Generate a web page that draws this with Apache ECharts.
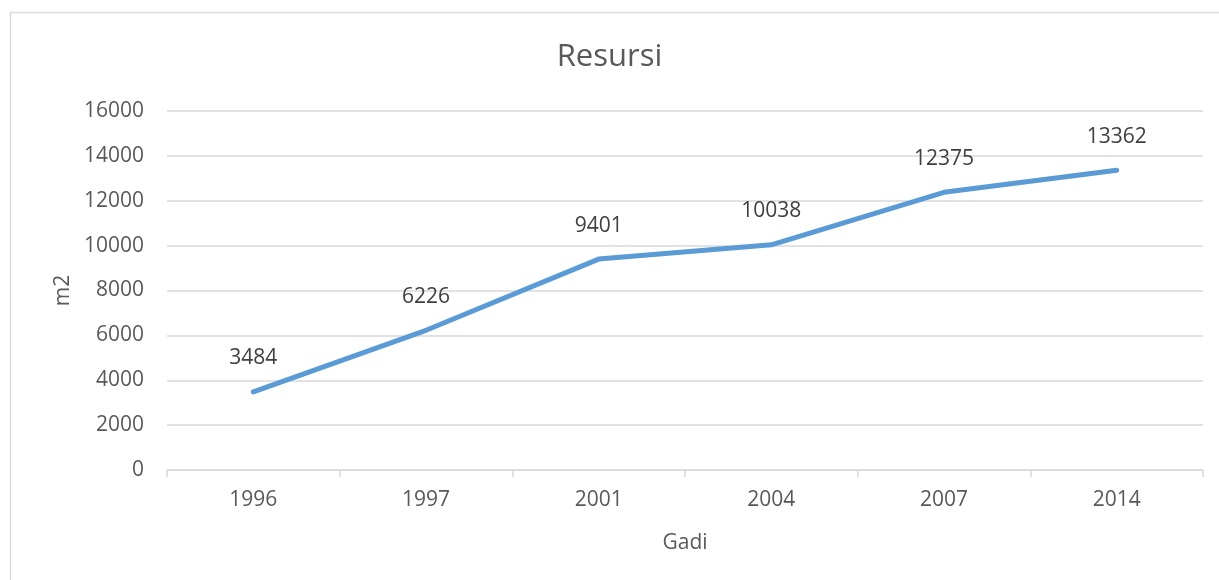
<!DOCTYPE html>
<html>
<head>
<meta charset="utf-8">
<script src="https://cdn.jsdelivr.net/npm/echarts@6/dist/echarts.min.js"></script>
<style>
html,body{margin:0;padding:0;background:#fff;}
#chart{width:1219px;height:580px;}
</style>
</head>
<body>
<div id="chart"></div>
<script>
const categories = ['1996', '1997', '2001', '2004', '2007', '2014'];
const values = [3484, 6226, 9401, 10038, 12375, 13362];
const titleText = 'Resursi';
const xName = 'Gadi';
const yName = 'm2';

const font = '"Open Sans", "Liberation Sans", sans-serif';
const chart = echarts.init(document.getElementById('chart'));
chart.setOption({
  backgroundColor: '#fff',
  animation: false,
  title: {
    text: titleText,
    left: 'center',
    top: 37,
    textStyle: { fontFamily: font, fontSize: 31, fontWeight: 'normal', color: '#595959' }
  },
  graphic: [{
    type: 'rect',
    shape: { x: 10.5, y: 12.5, width: 1230, height: 600 },
    style: { fill: 'none', stroke: '#d9d9d9', lineWidth: 1.5 },
    silent: true
  }],
  grid: { left: 167, right: 16, top: 111, bottom: 110 },
  xAxis: {
    type: 'category',
    data: categories,
    boundaryGap: true,
    name: xName,
    nameLocation: 'middle',
    nameGap: 63,
    nameTextStyle: { fontFamily: font, fontSize: 21, color: '#595959' },
    axisLine: { lineStyle: { color: '#d9d9d9', width: 1.5 } },
    axisTick: { show: true, length: 7, lineStyle: { color: '#d9d9d9', width: 1.5 } },
    axisLabel: { fontFamily: font, fontSize: 21, color: '#595959', margin: 20 },
    splitLine: { show: false }
  },
  yAxis: {
    type: 'value',
    min: 0,
    max: 16000,
    interval: 2000,
    name: yName,
    nameLocation: 'middle',
    nameGap: 86,
    nameRotate: 90,
    nameTextStyle: { fontFamily: font, fontSize: 21, color: '#595959' },
    axisLine: { show: false },
    axisTick: { show: false },
    axisLabel: { fontFamily: font, fontSize: 21, color: '#595959', margin: 23, formatter: function (v) { return String(v); } },
    splitLine: { lineStyle: { color: '#d9d9d9', width: 1.5 } }
  },
  series: [{
    type: 'line',
    data: values,
    showSymbol: true,
    symbol: 'circle',
    symbolSize: 4,
    lineStyle: { color: '#5b9bd5', width: 5, cap: 'round', join: 'round' },
    itemStyle: { color: '#5b9bd5', borderWidth: 0 },
    label: {
      show: true,
      position: 'top',
      distance: 21,
      fontFamily: font,
      fontSize: 21,
      color: '#404040',
      formatter: function (p) { return String(p.value); }
    }
  }]
});
</script>
</body>
</html>
